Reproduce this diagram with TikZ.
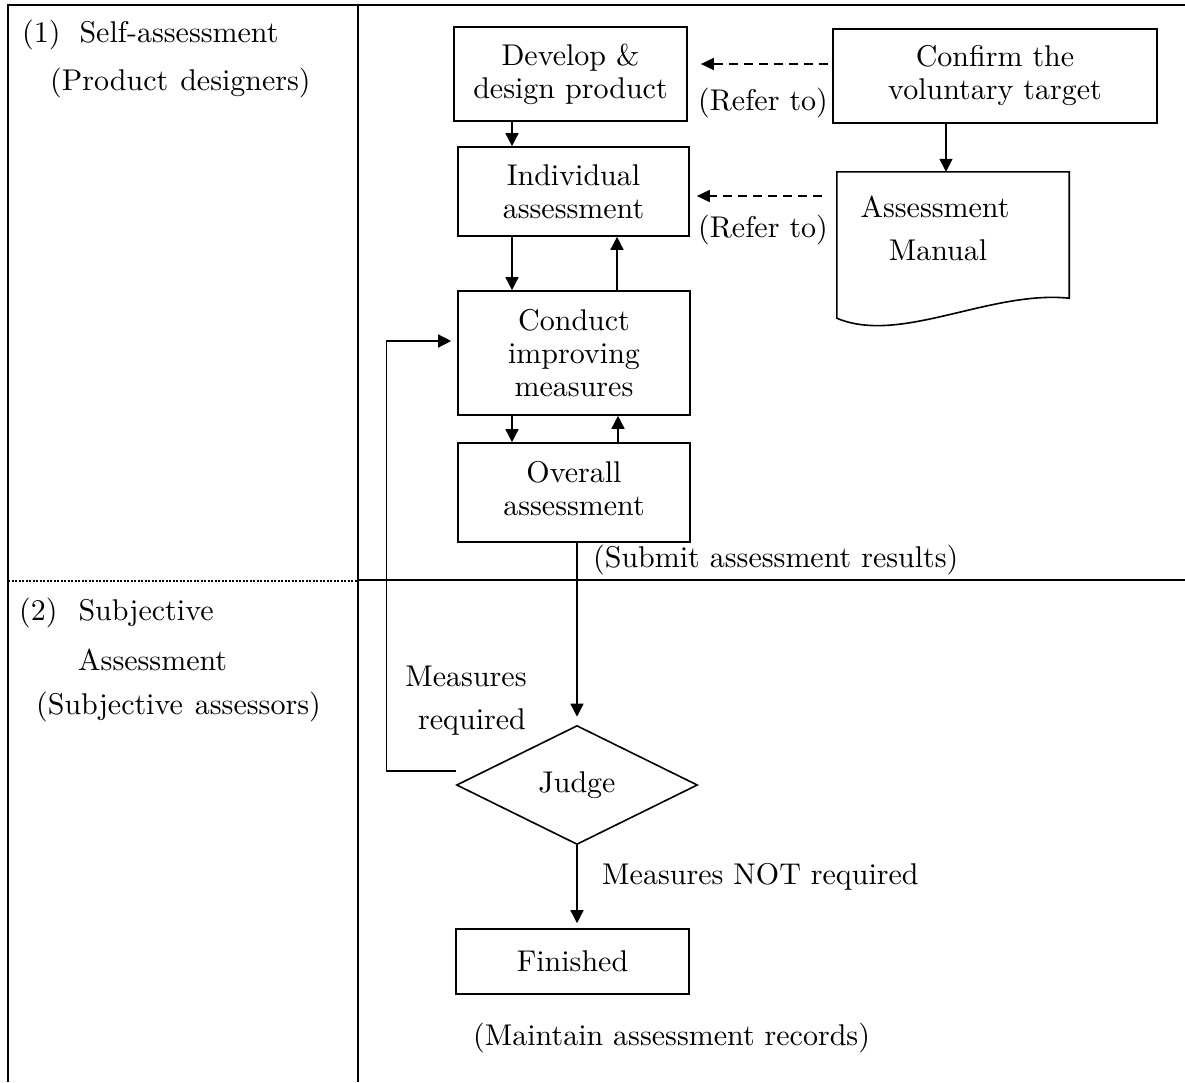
\documentclass[tikz,border=0pt]{standalone}
\usepackage{fontspec}
\setmainfont{lmroman10-regular.otf}
\usetikzlibrary{arrows.meta,shapes.geometric}
\begin{document}
\begin{tikzpicture}[x=1pt,y=-1pt,
  every node/.style={font=\fontsize{30}{33}\selectfont, inner sep=0pt},
  box/.style={draw, line width=1.6pt, align=center},
  arr/.style={line width=1.5pt, -{Triangle[length=13pt,width=13pt]}},
  darr/.style={line width=1.5pt, dash pattern=on 9pt off 6pt, -{Triangle[length=13pt,width=12pt]}},
  frame/.style={line width=2.4pt},
  lbl/.style={anchor=west}]
\useasboundingbox (0,0) rectangle (1185,1082);

% frame
\draw[frame] (8,1082) -- (8,5) -- (1185,5);
\draw[frame] (358,5) -- (358,1082);
\draw[line width=2pt, dash pattern=on 2pt off 1.5pt] (8,581) -- (358,581);
\draw[frame] (358,580) -- (1185,580);

% lane labels
\node[lbl] (l1) at (22,35) {(1)\hspace{19pt}Self-assessment};
\node[lbl] (l1b) at (50,83) {(Product\hspace{12pt}designers)};
\node[lbl] (l2) at (19,613) {(2)\hspace{21pt}Subjective};
\node[lbl] (l2b) at (78,660) {Assessment};
\node[lbl] (l2c) at (36,707) {(Subjective\hspace{12pt}assessors)};

% boxes
\node[box, minimum width=233pt, minimum height=94pt] (develop) at (570.5,74) {Develop \&\\design product};
\node[box, minimum width=324pt, minimum height=94pt] (confirm) at (995,76) {Confirm the\\voluntary target};
\node[box, minimum width=231pt, minimum height=89pt] (indiv) at (573.5,191.5) {Individual\\assessment};
\node[box, minimum width=232pt, minimum height=124pt] (conduct) at (574,353) {Conduct\\improving\\measures};
\node[box, minimum width=232pt, minimum height=99pt] (overall) at (574,492.5) {\raisebox{7pt}{\begin{tabular}{@{}c@{}}Overall\\[0pt]assessment\end{tabular}}};
\node[draw, diamond, aspect=2.03, minimum width=241pt, minimum height=119pt, line width=1.6pt] (judge) at (577,785) {Judge};
\node[box, minimum width=233pt, minimum height=65pt] (finished) at (572.5,961.5) {Finished};

% manual (document shape)
\node[minimum width=232pt, minimum height=146pt] (manual) at (953,245) {};
\draw[line width=1.6pt] (manual.north west) -- (manual.north east) -- ([yshift=20pt]manual.south east)
  .. controls (990,290) and (900,345) .. (manual.south west) -- cycle;
\node[align=center, font=\fontsize{30}{43}\selectfont] (mantext) at (935,228) {Assessment\\\hspace{6pt}Manual};

% arrows
\draw[arr] (develop.south -| 512,0) -- (indiv.north -| 512,0);
\draw[arr] (indiv.south -| 512,0) -- (conduct.north -| 512,0);
\draw[arr] (conduct.north -| 617,0) -- (indiv.south -| 617,0);
\draw[arr] (conduct.south -| 512,0) -- (overall.north -| 512,0);
\draw[arr] (overall.north -| 618,0) -- (conduct.south -| 618,0);
\draw[arr] (confirm.south -| 946,0) -- (manual.north -| 946,0);
\draw[darr, shorten <=4pt, shorten >=13pt] (confirm.west |- 0,64) -- (develop.east |- 0,64);
\draw[darr, shorten <=15pt, shorten >=7pt] (manual.west |- 0,196) -- (indiv.east |- 0,196);
\draw[arr, shorten >=8pt] (judge.north |- overall.south) -- (judge.north);
\draw[arr, shorten >=5pt] (judge.south) -- (finished.north -| judge.south);
\draw[arr, line width=1.3pt, shorten >=6pt] ([yshift=14pt]judge.west) -- ++(-69,0) |- ([yshift=12pt]conduct.west);

% labels
\node (ref1) at (763,103) {(Refer to)};
\node (ref2) at (763,230) {(Refer to)};
\node[lbl] (submit) at (593,560) {(Submit assessment results)};
\node[align=center, font=\fontsize{30}{43}\selectfont] (mreq) at (466,701) {Measures\\\hspace{12pt}required};
\node[lbl] (mnot) at (602,877) {Measures NOT required};
\node[lbl] (maint) at (473,1038) {(Maintain assessment records)};
\end{tikzpicture}
\end{document}
